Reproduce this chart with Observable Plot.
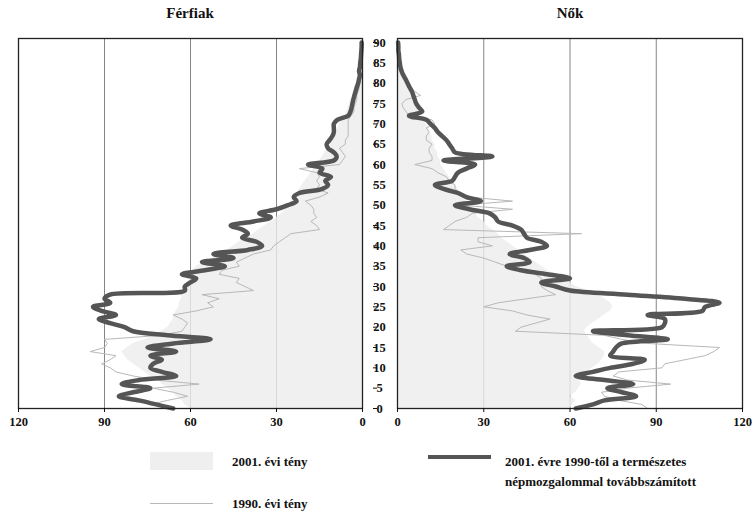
<!DOCTYPE html>
<html>
<head>
<meta charset="utf-8">
<script src="https://cdn.jsdelivr.net/npm/d3@7"></script>
<script src="https://cdn.jsdelivr.net/npm/@observablehq/plot@0.6"></script>
<style>
  html, body { margin: 0; padding: 0; background: #fff; }
  #wrap { position: relative; width: 755px; height: 527px; overflow: hidden; font-family: "Liberation Serif", "DejaVu Serif", serif; font-weight: bold; color: #111; }
  .abs { position: absolute; }
  .title { font-size: 15px; top: 5px; transform: translateX(-50%); white-space: nowrap; z-index: 5; }
  .leg { font-size: 13px; white-space: nowrap; line-height: 20px; }
</style>
</head>
<body>
<div id="wrap">
  <div id="left" class="abs" style="left:0;top:0"></div>
  <div id="right" class="abs" style="left:395px;top:0"></div>
  <div class="abs title" style="left:190px">Férfiak</div>
  <div class="abs title" style="left:570px">Nők</div>
  <div id="legend"></div>
</div>
<script>
// ---- data (thousands of persons, by single year of age) ----
const ages = d3.range(0, 91);
const xTicks = [0, 30, 60, 90, 120];
const ageTicks = d3.range(0, 91, 5);

const seriesNames = ["2001. évi tény", "1990. évi tény", "2001. évre 1990-től a természetes népmozgalommal továbbszámított"];

// Férfiak
const menActual2001 = [60,62,63,65,66,68,70,71,74,76,78,80,82,83,84,82,80,76,72,70,
  68,67,66,66,65,64,64,63,63,62,62,61,60,60,59,58,55,52,50,47,
  45,43,41,38,36,34,32,30,28,27,26,25,24,23,22,21,20,19,18,17,
  16,15,14,13,12,11,10.5,10,9,8.5,8,7,6,5.5,5,4.5,4,3.5,3,2.5,
  2.2,2,1.7,1.5,1.2,1,0.8,0.6,0.5,0.4,0.3];
const men1990 = [66,74,68,61,66,73,57,72,80,86,88,91,88,86,95,90,89,90,70,63,
  62,61,63,66,58,52,54,50,56,38,41,44,43,50,49,43,44,41,38,32,
  31,29,27,25,15,16,18,16,17,17,18,20,15,12,16,15,16,15,16,22,
  8,7,6,7,8,6,6,5,5,5,5,5,4,3,3,2.5,2,2,1.5,1,
  1,1,0.8,0.7,0.6,0.5,0.4,0.3,0.3,0.2,0.2];
const menProjected = [66,72,78,85,80,74,84,78,65,70,74,73,70,74,65,75,66,53,68,80,
  83,88,92,86,91,94,88,90,88,62,62,60,58,63,55,48,56,45,52,40,
  35,37,42,40,42,46,38,32,36,30,26,23,24,22,14,12,13,11,15,14,
  19,10,9,10,12,12.5,11.5,10.5,10,10,10,8.8,5,4.2,3.8,3.5,3.2,2.8,2.4,2,
  1.5,1.2,0.9,1.2,0.9,0.8,0.6,0.5,0.4,0.3,0.3];

// Nők
const womenActual2001 = [60,61,62,60,62,63,64,63,65,66,68,70,71,72,72,70,68,67,66,65,
  66,68,70,72,74,75,74,72,70,66,62,60,58,55,52,50,48,46,44,42,
  40,38,36,35,33,31,30,28,27,26,25,24,23,22,21,20,19,18,17,16,
  15,15,14,14,13,13,12,12,11,11,10,9,8,7.5,7,6.5,6,5.5,5,4.5,
  4,3.5,3,2.5,2,1.7,1.4,1.1,0.8,0.6,0.4];
const women1990 = [87,85,77,72,71,80,95,80,75,77,92,93,100,107,110,112,87,78,72,41,
  43,48,53,45,40,30,35,45,55,52,50,50,50,48,45,38,34,30,24,22,
  33,28,28,64,16,18,20,24,26,40,22,40,25,22,20,20,18,17,14,12,
  6,12,12,11,11,12,10,10,11,10,13,12,4,3,2,1.5,3,8,6,4,
  3,2.5,2,1.5,1.2,1,0.8,0.6,0.5,0.4,0.3];
const womenProjected = [62,68,72,83,78,73,82,72,62,68,74,82,86,74,75,76,78,94,80,68,
  92,93,93,87,106,107,112,100,80,60,55,50,60,52,43,38,46,44,39,46,
  52,50,45,44,43,40,35,34,32,25,20,29,24,21,16,13,19,20,21,24,
  27,16,33,20,19,18,17,15.5,14,13,11.5,10,4,8.6,7.5,6.5,6,5.5,5,4.2,
  3.5,2.8,2,1.4,1,0.8,0.6,0.5,0.3,0.3,0.2];

// ---- build tidy tables ----
function table(actual, old, proj) {
  return {
    actual: ages.map((a, i) => ({age: a, v: actual[i]})),
    old: ages.map((a, i) => ({age: a, v: old[i]})),
    proj: ages.map((a, i) => ({age: a, v: proj[i]}))
  };
}
const men = table(menActual2001, men1990, menProjected);
const women = table(womenActual2001, women1990, womenProjected);

const style = {fontFamily: "Liberation Serif, serif", fontSize: "12.5px", fontWeight: "bold", color: "#111", background: "transparent", overflow: "visible"};
const yScale = {domain: [0, 91]};

function marks(t) {
  return [
    Plot.ruleX([30, 60, 90], {stroke: "#666", strokeWidth: 0.8}),
    Plot.areaX(t.actual, {x: "v", y: "age", fill: "#ececec", fillOpacity: 0.8, curve: "linear"}),
    Plot.line(t.old, {x: "v", y: "age", stroke: "#b8b8b8", strokeWidth: 1}),
    Plot.line(t.proj, {x: "v", y: "age", stroke: "#555", strokeWidth: 4.5, curve: "catmull-rom"}),
    Plot.frame({stroke: "#222", strokeWidth: 1.3}),
    Plot.axisX(xTicks, {anchor: "bottom", tickSize: 4, tickPadding: 5, label: null})
  ];
}

const left = Plot.plot({
  width: 395, height: 440,
  marginLeft: 18, marginRight: 33, marginTop: 38, marginBottom: 32,
  style,
  x: {domain: [0, 120], reverse: true},
  y: yScale,
  marks: [
    ...marks(men),
    Plot.axisY(ageTicks, {anchor: "right", tickSize: 4, tickPadding: 3, textAnchor: "middle", dx: 10, label: null})
  ]
});
document.getElementById("left").appendChild(left);

const right = Plot.plot({
  width: 360, height: 440,
  marginLeft: 2, marginRight: 13, marginTop: 38, marginBottom: 32,
  style,
  x: {domain: [0, 120]},
  y: {...yScale, axis: null},
  marks: marks(women)
});
document.getElementById("right").appendChild(right);

// ---- legend ----
const legend = document.getElementById("legend");
legend.innerHTML = `
  <div class="abs" style="left:150px;top:452px;width:63px;height:18px;background:#efefef"></div>
  <div class="abs leg" style="left:232px;top:452px">${seriesNames[0]}</div>
  <div class="abs" style="left:150px;top:503px;width:63px;height:1px;background:#b8b8b8"></div>
  <div class="abs leg" style="left:232px;top:494px">${seriesNames[1]}</div>
  <div class="abs" style="left:428px;top:455px;width:63px;height:4px;background:#555"></div>
  <div class="abs leg" style="left:505px;top:452px;width:245px;white-space:normal">${seriesNames[2]}</div>
`;
</script>
</body>
</html>
